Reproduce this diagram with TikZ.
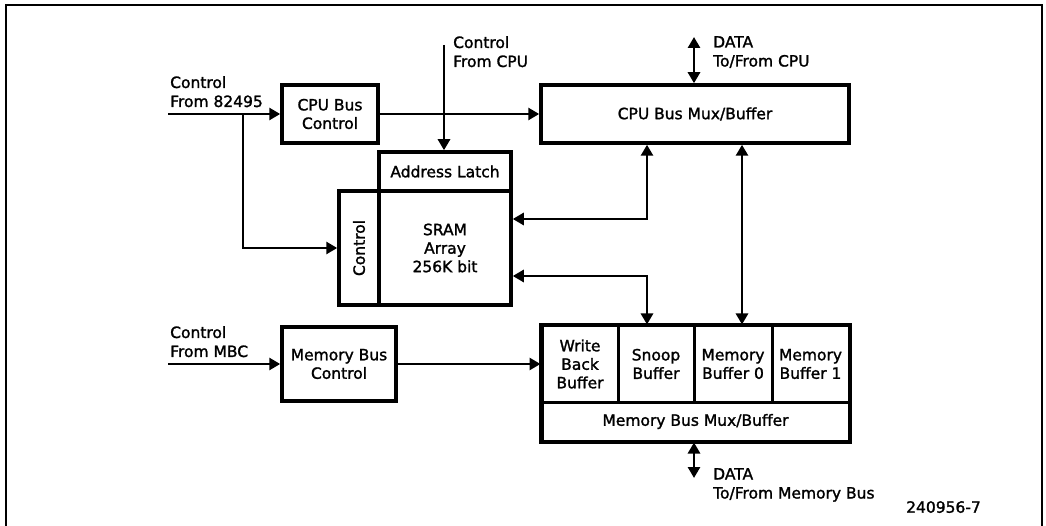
\documentclass[tikz,border=0pt]{standalone}
\usepackage{fontspec}
\setmainfont[UprightFeatures={FakeBold=1.5}]{DejaVu Sans}
\usetikzlibrary{arrows.meta}
\begin{document}
\begin{tikzpicture}[x=1pt,y=-1pt,
  box/.style={draw,line width=3.5pt,inner sep=0pt,align=center,
    font=\fontsize{15.5}{18.5}\selectfont},
  cell/.style={draw,line width=3pt,inner sep=0pt,align=center,
    font=\fontsize{15.5}{18.5}\selectfont},
  lbl/.style={inner sep=0pt,align=left,anchor=north west,
    font=\fontsize{15.5}{19}\selectfont},
  conn/.style={line width=2.7pt},
  arr/.style={conn,-{Triangle[length=11pt,width=12pt]}},
  darr/.style={conn,{Triangle[length=11pt,width=12pt]}-{Triangle[length=11pt,width=12pt]}}
]
\useasboundingbox (0,0) rectangle (1046,526);
% frame
\draw[line width=2pt] (6,526) -- (6,5) -- (1042,5) -- (1042,526);

% boxes
\node[box,minimum width=96pt,minimum height=58pt] (cpubc) at (330,114) {CPU Bus\\Control};
\node[box,minimum width=308pt,minimum height=58pt] (cpumux) at (695,114) {CPU Bus Mux/Buffer};
\node[box,minimum width=132pt,minimum height=39pt] (addr) at (445,171.5) {Address Latch};
\node[box,minimum width=132pt,minimum height=114pt] (sram) at (445,248) {SRAM\\Array\\256K bit};
\node[box,minimum width=40pt,minimum height=114pt] (ctrl) at (359,248) {};
\node[inner sep=0pt,rotate=90,font=\fontsize{15.5}{18.5}\selectfont] (ctrltxt) at (ctrl.center) {Control};
\node[box,minimum width=114pt,minimum height=74pt] (mbc) at (339,364) {Memory Bus\\Control};

% memory block
\node[cell,minimum width=76pt,minimum height=76pt] (wbb) at (580,364) {Write\\Back\\Buffer};
\node[cell,minimum width=76pt,minimum height=76pt] (snoop) at (656,364) {Snoop\\Buffer};
\node[cell,minimum width=78pt,minimum height=76pt] (mb0) at (733,364) {Memory\\Buffer 0};
\node[cell,minimum width=77pt,minimum height=76pt] (mb1) at (810.5,364) {Memory\\Buffer 1};
\node[cell,minimum width=307pt,minimum height=39pt] (memmux) at (695.5,421.5) {Memory Bus Mux/Buffer};
\draw[line width=3.5pt] (wbb.north west) rectangle (memmux.south east);

% coordinates
\coordinate (in1) at (168,114);
\coordinate (br1) at (243,114);
\coordinate (cfcpu) at (444,45);
\coordinate (dcpu) at (694,37);
\coordinate (j1) at (647,219);
\coordinate (j2) at (647,276);
\coordinate (j3) at (742,300);
\coordinate (in2) at (168,364);
\coordinate (dmem) at (694,478);

% connectors
\draw[arr] (in1) -- (cpubc.west);
\draw[arr] (br1) |- (ctrl.west);
\draw[arr] (cpubc.east) -- (cpumux.west);
\draw[arr] (cfcpu) -- (cfcpu |- addr.north);
\draw[darr] (dcpu) -- (dcpu |- cpumux.north);
\draw[darr] (cpumux.south -| j1) |- (sram.east |- j1);
\draw[darr] (sram.east |- j2) -| (snoop.north -| j2);
\draw[darr] (cpumux.south -| j3) -- (mb0.north -| j3);
\draw[arr] (in2) -- (mbc.west);
\draw[arr] (mbc.east) -- (wbb.west);
\draw[darr] (memmux.south -| dmem) -- (dmem);

% labels
\node[lbl] (l1) at (170,76) {Control\\From 82495};
\node[lbl] (l2) at (453,36) {Control\\From CPU};
\node[lbl] (l3) at (713,36) {DATA\\To/From CPU};
\node[lbl] (l4) at (170,326) {Control\\From MBC};
\node[lbl] (l5) at (713,468) {DATA\\To/From Memory Bus};
\node[lbl] (l6) at (906,501) {240956-7};
\end{tikzpicture}
\end{document}
